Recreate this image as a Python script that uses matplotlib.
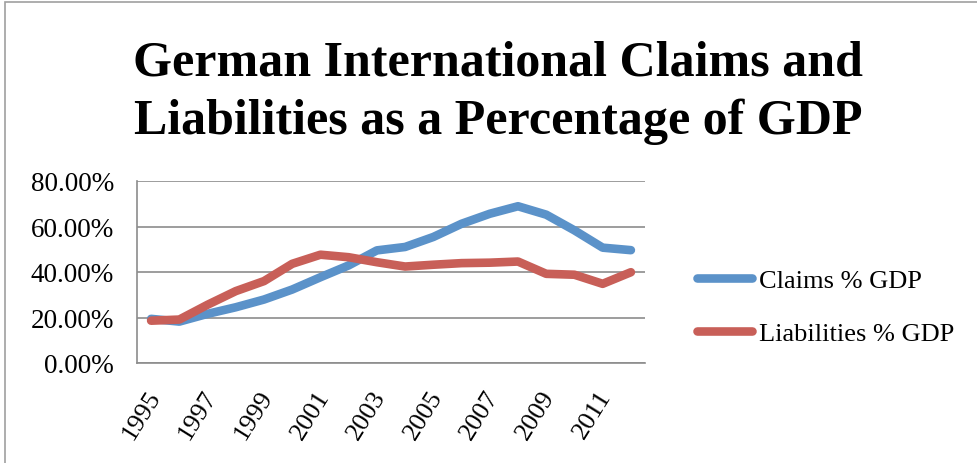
import matplotlib
matplotlib.use("Agg")
import matplotlib.pyplot as plt
import matplotlib.transforms as mtransforms
from matplotlib.patches import Rectangle
from matplotlib.ticker import FuncFormatter

# data (share of GDP, %)
years = list(range(1995, 2013))
claims = [19.4, 18.2, 21.6, 24.5, 27.9, 32.3, 37.7, 42.9, 49.5, 51.0,
          55.4, 61.2, 65.6, 68.9, 65.2, 58.3, 50.7, 49.6]
liabilities = [18.6, 19.1, 25.6, 31.6, 36.0, 43.6, 47.6, 46.5, 44.3, 42.4,
               43.2, 43.9, 44.1, 44.6, 39.2, 38.8, 34.8, 39.9]
tick_years = years[::2]

blue = "#5B92C9"
red = "#C85F58"
grey = "#8C8C8C"

plt.rcParams['font.family'] = ['Liberation Serif', 'DejaVu Serif']

fig = plt.figure(figsize=(9.77, 4.64), dpi=100)
ax = fig.add_axes([137 / 977, 1 - 364 / 464, 508 / 977, 182 / 464])

x = list(range(len(years)))
ax.plot(x, claims, color=blue, lw=6.2, solid_capstyle='round',
        solid_joinstyle='round', label="Claims % GDP", zorder=3)
ax.plot(x, liabilities, color=red, lw=6.2, solid_capstyle='round',
        solid_joinstyle='round', label="Liabilities % GDP", zorder=4)

ax.set_xlim(-0.5, len(years) - 0.5)
ax.set_ylim(0, 80)
ax.set_yticks([0, 20, 40, 60, 80])
ax.yaxis.set_major_formatter(FuncFormatter(lambda v, p: f"{v:.2f}%"))
ax.grid(axis='y', color=grey, lw=1.2)
ax.set_axisbelow(True)

idx = [years.index(y) for y in tick_years]
ax.set_xticks(idx)
ax.set_xticklabels([str(y) for y in tick_years], rotation=58, ha='right',
                   va='center', rotation_mode='anchor')
ax.tick_params(axis='x', length=0, pad=21, labelsize=19)
ax.tick_params(axis='y', length=0, pad=16.5, labelsize=19.5)
shift = mtransforms.ScaledTranslation(4 / 100, 0, fig.dpi_scale_trans)
for lab in ax.get_xticklabels():
    lab.set_transform(lab.get_transform() + shift)

for s in ['top', 'right']:
    ax.spines[s].set_visible(False)
for s in ['left', 'bottom']:
    ax.spines[s].set_color(grey)
    ax.spines[s].set_linewidth(1.2)

fig.text(0.51, 1 - 134 / 464, "German International Claims and\nLiabilities as a Percentage of GDP",
         ha='center', va='baseline', fontsize=36, fontweight='bold',
         linespacing=1.33)

ax.legend(loc='center left', bbox_to_anchor=(697 / 977, 1 - 308 / 464),
          bbox_transform=fig.transFigure, frameon=False, fontsize=19,
          handlelength=2.1, handletextpad=0.25, labelspacing=1.1,
          borderpad=0, borderaxespad=0)

# chart frame (only left and top edges show inside the picture)
fig.patches.append(Rectangle((5 / 977, -0.1), 1.2, 1 - 3 / 464 + 0.1,
                             transform=fig.transFigure, fill=False,
                             edgecolor='#A0A0A0', lw=1.2))

fig.savefig("out.png", dpi=100)
